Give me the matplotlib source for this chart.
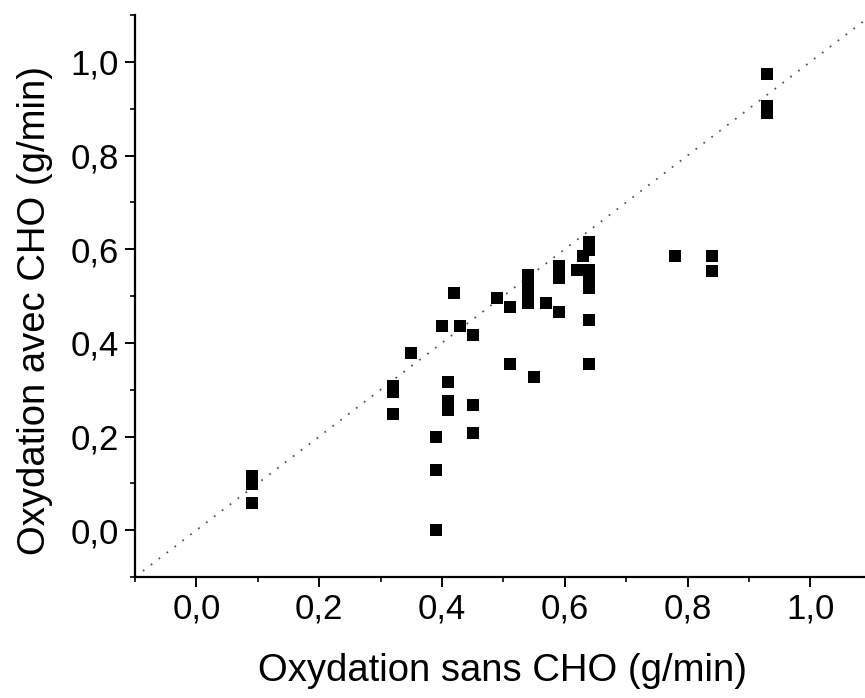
import matplotlib
matplotlib.use("Agg")
import matplotlib.pyplot as plt
from matplotlib.ticker import MultipleLocator, FuncFormatter

x_sans = [0.09, 0.09, 0.09, 0.32, 0.32, 0.32, 0.35, 0.39, 0.39, 0.39, 0.40,
          0.41, 0.41, 0.41, 0.42, 0.43, 0.45, 0.45, 0.45, 0.49, 0.51, 0.51,
          0.54, 0.54, 0.54, 0.54, 0.55, 0.57, 0.59, 0.59, 0.59, 0.62, 0.63,
          0.64, 0.64, 0.64, 0.64, 0.64, 0.64, 0.64, 0.78, 0.84, 0.84,
          0.93, 0.93, 0.93]
y_avec = [0.115, 0.098, 0.057, 0.308, 0.295, 0.249, 0.379, 0.198, 0.128, 0.0, 0.436,
          0.317, 0.275, 0.257, 0.506, 0.436, 0.417, 0.268, 0.208, 0.496, 0.477, 0.355,
          0.545, 0.525, 0.505, 0.485, 0.328, 0.485, 0.564, 0.538, 0.466, 0.555, 0.585,
          0.615, 0.598, 0.555, 0.536, 0.517, 0.449, 0.355, 0.585, 0.585, 0.553,
          0.974, 0.905, 0.89]
identity = [-0.1, 1.1]
major_ticks = [0.0, 0.2, 0.4, 0.6, 0.8, 1.0]

plt.rcParams['font.family'] = ['Liberation Sans', 'DejaVu Sans']

fig = plt.figure(figsize=(8.65, 6.98), dpi=100)
ax = fig.add_axes([135/865, 1-577/698, (865-135)/865, (577-15)/698])

ax.plot(identity, identity, linestyle=(0, (1, 4.5)), color='#555555', lw=1.3)
ax.plot(x_sans, y_avec, linestyle='none', marker='s', markersize=8.6,
        color='black', markeredgewidth=0)

ax.set_xlim(-0.1, 1.089)
ax.set_ylim(-0.1, 1.1)
ax.set_xticks(major_ticks)
ax.set_yticks(major_ticks)
ax.xaxis.set_minor_locator(MultipleLocator(0.1))
ax.yaxis.set_minor_locator(MultipleLocator(0.1))
fmt = FuncFormatter(lambda v, p: f"{v:.1f}".replace('.', ','))
ax.xaxis.set_major_formatter(fmt)
ax.yaxis.set_major_formatter(fmt)

for s in ['top', 'right']:
    ax.spines[s].set_visible(False)
for s in ['left', 'bottom']:
    ax.spines[s].set_linewidth(1.6)

ax.tick_params(which='major', direction='out', length=7.5, width=1.4,
               labelsize=25, pad=4)
ax.tick_params(which='minor', direction='out', length=3.5, width=1.2)

ax.set_xlabel('Oxydation sans CHO (g/min)', fontsize=27.5, va='center')
ax.set_ylabel('Oxydation avec CHO (g/min)', fontsize=27.5, va='center')
ax.xaxis.set_label_coords(0.503, -0.168)
ax.yaxis.set_label_coords(-0.137, 0.475)

fig.savefig('out.png', dpi=100)
